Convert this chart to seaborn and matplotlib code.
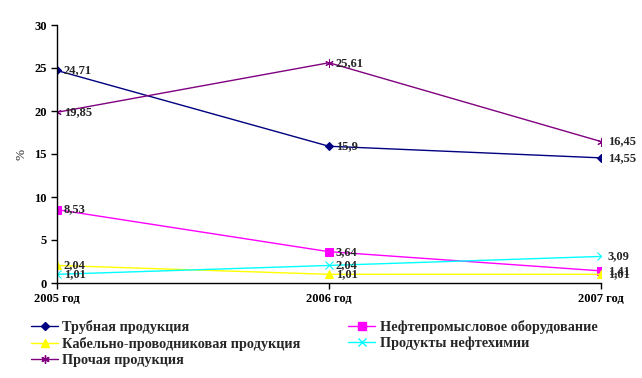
import matplotlib
matplotlib.use("Agg")
import matplotlib.pyplot as plt
import seaborn as sns
import pandas as pd
from matplotlib.lines import Line2D

years = ["2005 год", "2006 год", "2007 год"]
series_names = ["Трубная продукция", "Нефтепромысловое оборудование",
                "Кабельно-проводниковая продукция", "Продукты нефтехимии",
                "Прочая продукция"]
truby = [24.71, 15.9, 14.55]
neftepr = [8.53, 3.64, 1.41]
kabel = [2.04, 1.01, 1.01]
neftehim = [1.01, 2.04, 3.09]
prochee = [19.85, 25.61, 16.45]
values = [truby, neftepr, kabel, neftehim, prochee]

colors = ["#000080", "#FF00FF", "#FFFF00", "#00FFFF", "#800080"]
markers = ["D", "s", "^", "x", (6, 2, 0)]
msizes = [4, 6, 6, 6, 6]

sns.set_style("white")
plt.rcParams["font.family"] = ["Liberation Serif", "DejaVu Serif"]
plt.rcParams["font.weight"] = "bold"

rows = []
for name, vals in zip(series_names, values):
    for i, (y, v) in enumerate(zip(years, vals)):
        rows.append({"year": y, "pos": i, "value": v, "series": name})
df = pd.DataFrame(rows)

fig = plt.figure(figsize=(6.42, 3.78), dpi=100)
ax = fig.add_axes([57/642, 1-283/378, (601-57)/642, (283-25)/378])

handles = {}
for name, col, mk, ms in zip(series_names, colors, markers, msizes):
    sub = df[df.series == name]
    sns.lineplot(data=sub, x="pos", y="value", color=col, marker=mk,
                 markersize=ms, markeredgecolor=col, markerfacecolor=col,
                 linewidth=1, ax=ax, legend=False)
    handles[name] = Line2D([], [], color=col, marker=mk, markersize=ms,
                           markeredgecolor=col, markerfacecolor=col, linewidth=1)
    for _, r in sub.iterrows():
        txt = (f"{r.value:g}").replace(".", ",")
        ax.annotate(txt, (r.pos, r.value), xytext=(5, 0), textcoords="offset points",
                    va="center", ha="left", fontsize=9, fontweight="bold",
                    clip_on=False)

ax.set_xlim(0, 2)
ax.set_ylim(0, 30)
ax.set_yticks(range(0, 31, 5))
ax.set_xticks(range(len(years)))
ax.set_xticklabels(years)
ax.set_xlabel("")
ax.set_ylabel("%", fontsize=9.5, fontweight="normal", labelpad=5)
for s in ["top", "right"]:
    ax.spines[s].set_visible(False)
for s in ["left", "bottom"]:
    ax.spines[s].set_color("black")
    ax.spines[s].set_linewidth(1)
ax.tick_params(axis="both", which="both", direction="out", length=4, width=1,
               labelsize=9, colors="black", left=True, bottom=True)
for lab in ax.get_xticklabels() + ax.get_yticklabels():
    lab.set_fontweight("bold")

order = [0, 2, 4, 1, 3]
fig.legend([handles[series_names[i]] for i in order],
           [series_names[i] for i in order],
           loc="upper left", bbox_to_anchor=(31/642, 1-320/378), ncol=2,
           frameon=False, prop={"size": 10.3, "weight": "bold"},
           handlelength=1.9, handletextpad=0.3, columnspacing=3.3,
           labelspacing=0.2, borderpad=0, borderaxespad=0)

fig.savefig("out.png", dpi=100)
